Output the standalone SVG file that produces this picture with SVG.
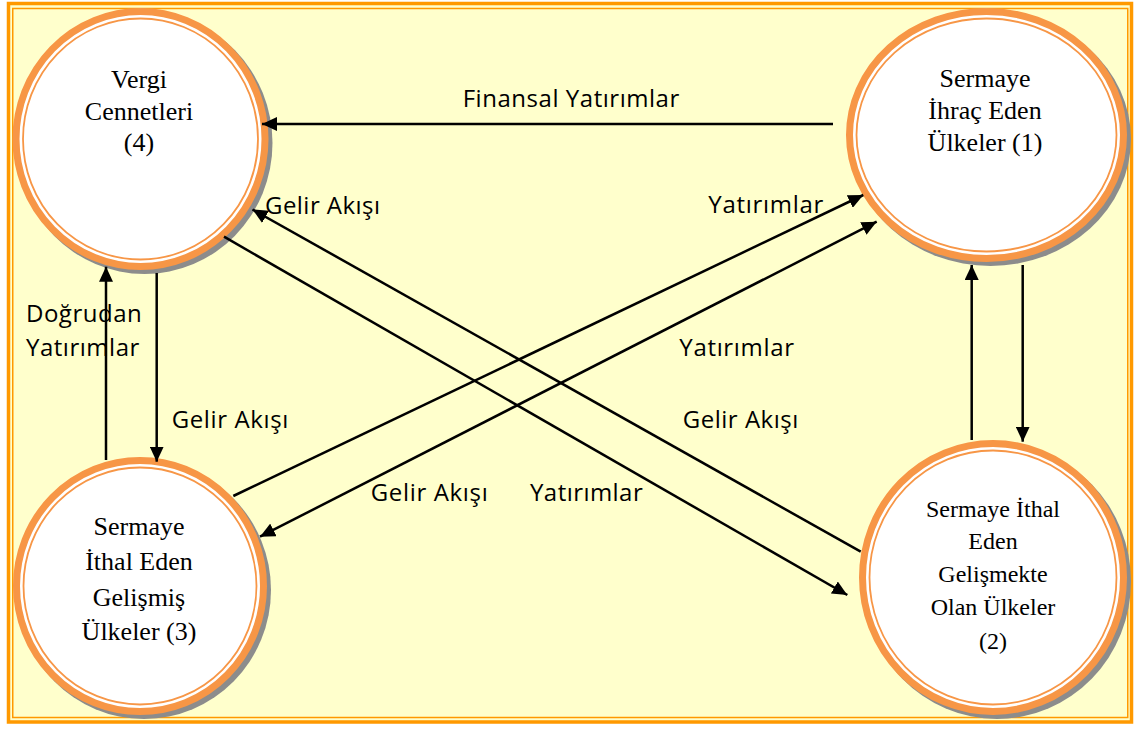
<svg xmlns="http://www.w3.org/2000/svg" width="1134" height="729" viewBox="0 0 1134 729">
<style>
.frame-outer{fill:#FFFFCC;stroke:#FF9900;stroke-width:3.5}
.frame-inner{fill:none;stroke:#FF9900;stroke-width:1.5}
.shadow{fill:#8C8C8C}
.ring{fill:#FFFFFF;stroke:#F79646;stroke-width:7}
.ring-in{fill:none;stroke:#F79646;stroke-width:1.8}
.nt{font-family:"Liberation Serif","Times New Roman",serif;font-size:26px;fill:#000;text-anchor:middle}
.nt2{font-size:24px}
.lbl{font-family:"Open Sans","Noto Sans",sans-serif;font-size:24px;fill:#000}
.conn{stroke:#000;stroke-width:2.5;fill:none}
</style>
<defs>
<marker id="ah" markerUnits="userSpaceOnUse" markerWidth="16" markerHeight="14" refX="15" refY="7" orient="auto-start-reverse">
<path d="M0,0 L15,7 L0,14 z" fill="#000"/>
</marker>
</defs>
<rect class="frame-outer" x="8.5" y="3.5" width="1123" height="718.5"/>
<rect class="frame-inner" x="12.75" y="8.5" width="1115" height="709"/>

<g id="node4">
<ellipse class="shadow" cx="144.5" cy="143" rx="128" ry="131"/>
<ellipse class="ring" cx="140.5" cy="139" rx="124.5" ry="127.5"/>
<ellipse class="ring-in" cx="140.5" cy="139" rx="117.5" ry="120.5"/>
<text class="nt" x="139" y="88">Vergi</text>
<text class="nt" x="139" y="119.5">Cennetleri</text>
<text class="nt" x="139" y="151">(4)</text>
</g>

<g id="node1">
<ellipse class="shadow" cx="990.5" cy="139" rx="140.5" ry="127"/>
<ellipse class="ring" cx="986.5" cy="135" rx="137" ry="123.5"/>
<ellipse class="ring-in" cx="986.5" cy="135" rx="130" ry="116.5"/>
<text class="nt" x="985" y="87">Sermaye</text>
<text class="nt" x="985" y="119">İhraç Eden</text>
<text class="nt" x="985" y="150.5">Ülkeler (1)</text>
</g>

<g id="node3">
<ellipse class="shadow" cx="144" cy="590" rx="127" ry="129"/>
<ellipse class="ring" cx="140" cy="586" rx="123.5" ry="125.5"/>
<ellipse class="ring-in" cx="140" cy="586" rx="116.5" ry="118.5"/>
<text class="nt" x="139" y="535">Sermaye</text>
<text class="nt" x="139" y="570">İthal Eden</text>
<text class="nt" x="139" y="605.5">Gelişmiş</text>
<text class="nt" x="139" y="640">Ülkeler (3)</text>
</g>

<g id="node2">
<ellipse class="shadow" cx="997" cy="581.5" rx="134" ry="137.5"/>
<ellipse class="ring" cx="993" cy="577.5" rx="130.5" ry="134"/>
<ellipse class="ring-in" cx="993" cy="577.5" rx="123.5" ry="127"/>
<text class="nt nt2" x="993" y="517">Sermaye İthal</text>
<text class="nt nt2" x="993" y="549">Eden</text>
<text class="nt nt2" x="993" y="581.5">Gelişmekte</text>
<text class="nt nt2" x="993" y="615">Olan Ülkeler</text>
<text class="nt nt2" x="993" y="649">(2)</text>
</g>

<g id="connectors">
<path class="conn" d="M833,124 L262,124" marker-end="url(#ah)"/>
<path class="conn" d="M860.7,551.7 L252.5,209.5" marker-end="url(#ah)"/>
<path class="conn" d="M224,236.7 L847.3,595" marker-end="url(#ah)"/>
<path class="conn" d="M233.3,496 L863.3,195" marker-end="url(#ah)"/>
<path class="conn" d="M260,536.7 L876.7,221.7" marker-start="url(#ah)" marker-end="url(#ah)"/>
<path class="conn" d="M156.7,273 L156.7,461.7" marker-end="url(#ah)"/>
<path class="conn" d="M106,460 L106,266.7" marker-end="url(#ah)"/>
<path class="conn" d="M971.7,440 L971.7,265" marker-end="url(#ah)"/>
<path class="conn" d="M1022.7,265 L1022.7,441.7" marker-end="url(#ah)"/>
</g>

<g id="labels">
<text class="lbl" x="462.7" y="106.7" textLength="216.6">Finansal Yatırımlar</text>
<text class="lbl" x="265" y="214" textLength="115">Gelir Akışı</text>
<text class="lbl" x="708.3" y="213.3" textLength="115">Yatırımlar</text>
<text class="lbl" x="26" y="322.3" textLength="115.7">Doğrudan</text>
<text class="lbl" x="26" y="356" textLength="113.3">Yatırımlar</text>
<text class="lbl" x="171.7" y="428.3" textLength="116.6">Gelir Akışı</text>
<text class="lbl" x="370.7" y="500.7" textLength="117">Gelir Akışı</text>
<text class="lbl" x="530" y="500.7" textLength="112.7">Yatırımlar</text>
<text class="lbl" x="679.3" y="356" textLength="114.7">Yatırımlar</text>
<text class="lbl" x="682.7" y="428.3" textLength="115.6">Gelir Akışı</text>
</g>
</svg>
